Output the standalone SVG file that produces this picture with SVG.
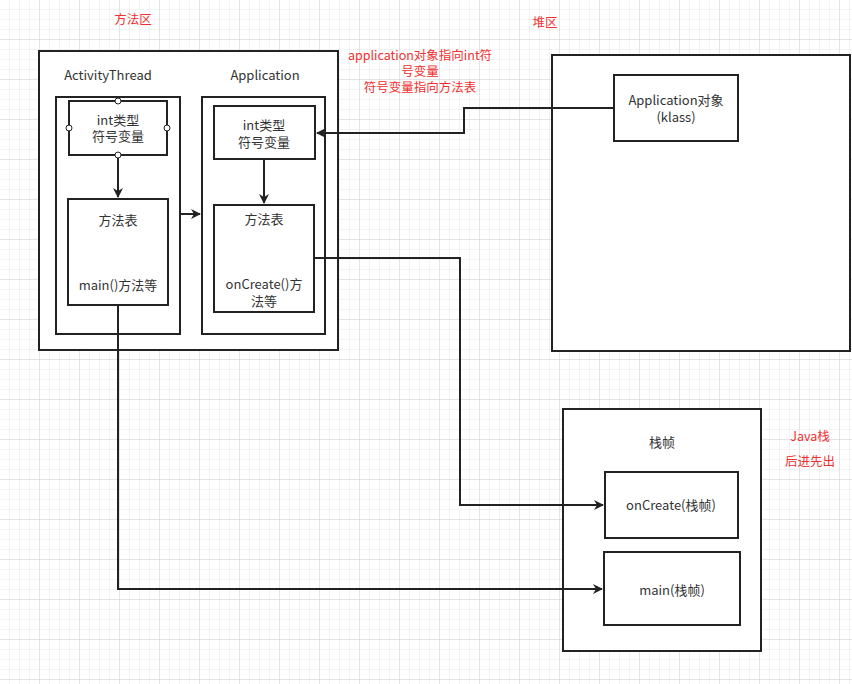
<svg xmlns="http://www.w3.org/2000/svg" width="852" height="684" viewBox="0 0 852 684">
<style>
text{font-family:"Noto Sans CJK SC","Noto Sans",sans-serif;font-size:13px;fill:#333;text-anchor:middle}
.r{fill:#f03030;font-size:12.5px}
.b{fill:#fff;stroke:#222;stroke-width:2}
.c{fill:none;stroke:#222;stroke-width:2}
</style>
<defs>
<pattern id="g" width="10" height="10" patternUnits="userSpaceOnUse"><path d="M10 0V10H0" fill="none" stroke="#e6e6e6" stroke-width="1"/></pattern>
<pattern id="G" width="40" height="40" patternUnits="userSpaceOnUse"><rect width="40" height="40" fill="url(#g)"/><path d="M40 0V40H0" fill="none" stroke="#d6d6d6" stroke-width="1"/></pattern>
<marker id="a" markerWidth="10" markerHeight="10" refX="9" refY="5" orient="auto" markerUnits="userSpaceOnUse"><path d="M0 0L10 5L0 10L3 5Z" fill="#222"/></marker>
</defs>
<rect width="852" height="684" fill="#fff"/>
<rect width="852" height="684" fill="url(#G)"/>
<text class="r" x="133" y="24">方法区</text>
<text class="r" x="545" y="27">堆区</text>
<g id="method-area">
<rect class="b" x="39" y="51" width="299" height="299"/>
<text x="108" y="80">ActivityThread</text>
<text x="265" y="80">Application</text>
</g>
<g id="activity-thread"><rect class="b" x="56" y="97" width="124" height="237"/></g>
<g id="application"><rect class="b" x="202" y="97" width="123" height="237"/></g>
<g id="at-int"><rect class="b" x="69" y="101" width="98" height="54"/>
<text x="118" y="125">int类型</text><text x="118" y="141">符号变量</text>
<g fill="#fff" stroke="#222"><circle cx="118" cy="101" r="3"/><circle cx="69" cy="128" r="3"/><circle cx="167" cy="128" r="3"/><circle cx="118" cy="155" r="3"/></g></g>
<g id="at-table"><rect class="b" x="68" y="199" width="100" height="106"/>
<text x="118" y="225">方法表</text><text x="118" y="290">main()方法等</text></g>
<g id="app-int"><rect class="b" x="214" y="106" width="101" height="53"/>
<text x="264" y="130">int类型</text><text x="264" y="147">符号变量</text></g>
<g id="app-table"><rect class="b" x="214" y="205" width="100" height="107"/>
<text x="264" y="224">方法表</text><text x="264" y="289">onCreate()方</text><text x="264" y="306">法等</text></g>
<g id="heap"><rect class="b" x="552" y="55" width="298" height="296"/></g>
<g id="app-obj"><rect class="b" x="614" y="75" width="124" height="66"/>
<text x="676" y="105">Application对象</text><text x="676" y="122">(klass)</text></g>
<text class="r" x="420" y="60">application对象指向int符</text>
<text class="r" x="420" y="76">号变量</text>
<text class="r" x="420" y="92">符号变量指向方法表</text>
<g id="stack"><rect class="b" x="563" y="409" width="198" height="242"/><text x="662" y="447">栈帧</text></g>
<g id="oncreate-frame"><rect class="b" x="605" y="472" width="133" height="66"/><text x="671" y="510">onCreate(栈帧)</text></g>
<g id="main-frame"><rect class="b" x="604" y="552" width="136" height="73"/><text x="672" y="595">main(栈帧)</text></g>
<text class="r" x="810" y="441">Java栈</text>
<text class="r" x="810" y="466">后进先出</text>
<g id="connectors" class="c">
<path class="c" d="M118 158V197" marker-end="url(#a)"/>
<path class="c" d="M264 159V203" marker-end="url(#a)"/>
<path class="c" d="M181 214H200" marker-end="url(#a)"/>
<path class="c" d="M614 108H464V133H317" marker-end="url(#a)"/>
<path class="c" d="M314 258H460V505H603" marker-end="url(#a)"/>
<path class="c" d="M118 305V589H602" marker-end="url(#a)"/>
</g>
</svg>
